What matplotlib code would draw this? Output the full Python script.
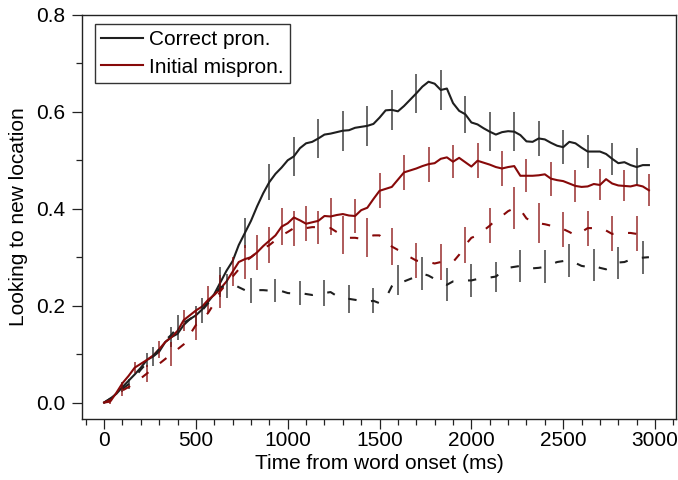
import numpy as np
import matplotlib.pyplot as plt
from matplotlib.ticker import MultipleLocator, FormatStrFormatter

plt.rcParams["font.family"] = ["Liberation Sans", "DejaVu Sans"]

# samples every 33.3 ms (90 samples)
time_ms = np.arange(90) * 100 / 3

correct_new = [
    0.0, 0.008, 0.018, 0.032, 0.045, 0.058, 0.072, 0.088, 0.095, 0.105,
    0.125, 0.135, 0.142, 0.16, 0.172, 0.18, 0.192, 0.208, 0.224, 0.248,
    0.272, 0.292, 0.325, 0.35, 0.375, 0.405, 0.432, 0.455, 0.472, 0.485,
    0.5, 0.508, 0.525, 0.535, 0.538, 0.545, 0.553, 0.555, 0.558, 0.561,
    0.562, 0.567, 0.569, 0.571, 0.575, 0.588, 0.603, 0.604, 0.601, 0.612,
    0.625, 0.638, 0.652, 0.662, 0.658, 0.645, 0.648, 0.618, 0.602, 0.595,
    0.578, 0.574, 0.566, 0.559, 0.553, 0.558, 0.56, 0.559, 0.552, 0.539,
    0.538, 0.545, 0.543, 0.536, 0.53, 0.527, 0.538, 0.535, 0.526, 0.518,
    0.518, 0.518, 0.513, 0.503, 0.494, 0.496, 0.49, 0.486, 0.49, 0.49,
]
correct_old = [
    0.0, 0.008, 0.018, 0.028, 0.038, 0.052, 0.068, 0.082, 0.095, 0.11,
    0.128, 0.14, 0.155, 0.165, 0.172, 0.18, 0.19, 0.205, 0.222, 0.238,
    0.24, 0.245, 0.238, 0.232, 0.231, 0.232, 0.232, 0.231, 0.232, 0.23,
    0.226, 0.225, 0.226, 0.224, 0.222, 0.225, 0.226, 0.228, 0.22, 0.214,
    0.214, 0.212, 0.21, 0.208, 0.21, 0.205, 0.215, 0.24, 0.253, 0.25,
    0.255, 0.26, 0.266, 0.262, 0.255, 0.247, 0.243, 0.25, 0.251, 0.252,
    0.252, 0.255, 0.256, 0.258, 0.26, 0.27, 0.278, 0.28, 0.282, 0.278,
    0.277, 0.278, 0.28, 0.285, 0.29, 0.292, 0.294, 0.288, 0.282, 0.28,
    0.283, 0.278, 0.275, 0.28, 0.289, 0.29, 0.295, 0.298, 0.299, 0.3,
]
mispron_new = [
    0.0, 0.002, 0.02, 0.04, 0.055, 0.072, 0.08, 0.088, 0.097, 0.11,
    0.125, 0.135, 0.148, 0.17, 0.18, 0.19, 0.198, 0.212, 0.222, 0.235,
    0.25, 0.27, 0.29, 0.296, 0.3, 0.31, 0.323, 0.334, 0.345, 0.363,
    0.37, 0.382, 0.376, 0.369, 0.372, 0.375, 0.385, 0.384, 0.387, 0.389,
    0.386, 0.385, 0.397, 0.402, 0.42, 0.437, 0.441, 0.445, 0.46, 0.475,
    0.479, 0.483, 0.488, 0.492, 0.494, 0.503, 0.506, 0.497, 0.505, 0.496,
    0.487, 0.499, 0.495, 0.491, 0.486, 0.483, 0.486, 0.488, 0.468, 0.468,
    0.468, 0.469, 0.471, 0.462, 0.459, 0.457, 0.452, 0.447, 0.445, 0.446,
    0.451, 0.449, 0.461, 0.452, 0.448, 0.447, 0.446, 0.449, 0.446, 0.438,
]
mispron_old = [
    0.0, 0.005, 0.012, 0.025, 0.032, 0.04, 0.05, 0.06, 0.07, 0.08,
    0.09, 0.1, 0.11, 0.12, 0.14, 0.16, 0.172, 0.185, 0.205, 0.23,
    0.245, 0.26, 0.275, 0.29, 0.3, 0.31, 0.318, 0.325, 0.335, 0.345,
    0.352, 0.36, 0.358, 0.36, 0.362, 0.362, 0.361, 0.36, 0.352, 0.345,
    0.34, 0.34, 0.338, 0.34, 0.345, 0.345, 0.33, 0.322, 0.315, 0.31,
    0.3, 0.293, 0.291, 0.29, 0.287, 0.29, 0.288, 0.29, 0.305, 0.325,
    0.34, 0.345, 0.355, 0.365, 0.377, 0.385, 0.395, 0.401, 0.398, 0.38,
    0.373, 0.37, 0.368, 0.365, 0.362, 0.358, 0.352, 0.345, 0.352, 0.36,
    0.36, 0.36, 0.355, 0.348, 0.35, 0.35, 0.35, 0.348, 0.348, 0.348,
]

# error bar half-widths, one per bar (every 4th sample)
correct_new_err = [0.01, 0.015, 0.021, 0.019, 0.031, 0.031, 0.038, 0.04, 0.041,
                   0.041, 0.041, 0.041, 0.04, 0.042, 0.038, 0.04, 0.04, 0.037,
                   0.035, 0.034, 0.033, 0.039, 0.039]
correct_old_err = [0.0, 0.01, 0.02, 0.025, 0.025, 0.025, 0.026, 0.024, 0.024,
                   0.027, 0.029, 0.026, 0.031, 0.034, 0.034, 0.034, 0.031,
                   0.033, 0.034, 0.034, 0.033, 0.033, 0.034]
mispron_new_err = [0.005, 0.012, 0.018, 0.022, 0.028, 0.03, 0.036, 0.038, 0.036,
                   0.038, 0.036, 0.036, 0.036, 0.036, 0.034, 0.036, 0.036, 0.034,
                   0.035, 0.033, 0.032, 0.032, 0.033]
mispron_old_err = [0.012, 0.018, 0.024, 0.03, 0.034, 0.036, 0.038, 0.036, 0.034,
                   0.039, 0.04, 0.038, 0.036, 0.038, 0.038, 0.036, 0.043, 0.041,
                   0.036, 0.036, 0.036, 0.036, 0.036]

BLACK = "#1f1f1f"
RED = "#870909"
FS = 15

fig = plt.figure(figsize=(6.78, 4.8), dpi=100)
ax = fig.add_axes([0.121, 0.127, 0.876, 0.842])

series = [
    (correct_new, correct_new_err, 3, BLACK, "-", "Correct pron."),
    (mispron_new, mispron_new_err, 1, RED, "-", "Initial mispron."),
    (correct_old, correct_old_err, 0, BLACK, "--", None),
    (mispron_old, mispron_old_err, 3, RED, "--", None),
]

for vals, errs, start, color, ls, label in series:
    vals = np.asarray(vals)
    line, = ax.plot(time_ms, vals, color=color, lw=1.5, label=label)
    if ls == "--":
        line.set_dashes((4, 7))
    idx = np.arange(start, len(vals), 4)
    e = np.asarray(errs[:len(idx)])
    ax.vlines(time_ms[idx], vals[idx] - e, vals[idx] + e, color=color,
              lw=1.1, alpha=0.85)

ax.set_xlim(-120, 3114)
ax.set_ylim(-0.034, 0.8)
ax.xaxis.set_major_locator(MultipleLocator(500))
ax.xaxis.set_minor_locator(MultipleLocator(100))
ax.yaxis.set_major_locator(MultipleLocator(0.2))
ax.yaxis.set_minor_locator(MultipleLocator(0.1))
ax.yaxis.set_major_formatter(FormatStrFormatter("%.1f"))
ax.tick_params(which="major", length=7, width=0.9, labelsize=FS, color="#222222")
ax.tick_params(which="minor", length=4, width=0.9, color="#222222")
ax.tick_params(axis="x", which="major", pad=1.5)
ax.tick_params(axis="y", which="major", pad=5)
for sp in ax.spines.values():
    sp.set_linewidth(1.0)
    sp.set_color("#222222")

ax.set_xlabel("Time from word onset (ms)", fontsize=FS, labelpad=3)
ax.set_ylabel("Looking to new location", fontsize=FS, labelpad=6)

leg = ax.legend(loc="upper left", bbox_to_anchor=(0.022, 0.977), borderaxespad=0,
                fontsize=FS, frameon=True, fancybox=False, edgecolor="black",
                handlelength=2.0, handletextpad=0.3, borderpad=0.3,
                labelspacing=0.4)
leg.get_frame().set_linewidth(1.0)

fig.savefig("out.png", dpi=100)
